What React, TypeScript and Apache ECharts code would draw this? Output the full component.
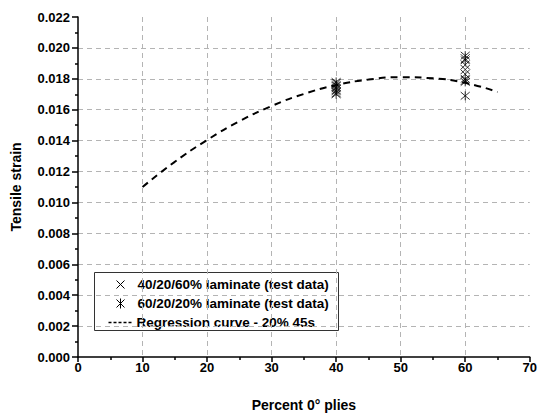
import React, { useEffect, useRef } from "react";
import * as echarts from "echarts";

const xTicks = [0, 10, 20, 30, 40, 50, 60, 70];
const yTicks = [0, 0.002, 0.004, 0.006, 0.008, 0.01, 0.012, 0.014, 0.016, 0.018, 0.02, 0.022];

const lam402060X = [40, 40, 40, 40, 60, 60, 60, 60, 60];
const lam402060Y = [0.0171, 0.0173, 0.0175, 0.0177, 0.0193, 0.0189, 0.0186, 0.0183, 0.0179];

const lam602020X = [40, 40, 40, 40, 40, 60, 60, 60, 60, 60];
const lam602020Y = [0.017, 0.0172, 0.0174, 0.0176, 0.0178, 0.0195, 0.0192, 0.018, 0.0178, 0.0169];

const regX = [10, 15, 20, 25, 30, 35, 40, 45, 50, 55, 60, 65];
const regY = [0.011, 0.01263, 0.01404, 0.01525, 0.01624, 0.01702, 0.01759, 0.01795, 0.0181, 0.01803, 0.01774, 0.01715];

const legendLabels = [
  "40/20/60% laminate (test data)",
  "60/20/20% laminate (test data)",
  "Regression curve - 20% 45s",
];

const X_PATH = "path://M0,0L10,10M10,0L0,10";
const AST_PATH = "path://M0,0L10,10M10,0L0,10M5,-1L5,11";

export default function App() {
  const ref = useRef<HTMLDivElement>(null);
  useEffect(() => {
    if (!ref.current) return;
    const chart = echarts.init(ref.current, undefined, { renderer: "svg" });
    const font = "Arial, 'Liberation Sans', sans-serif";
    const zip = (xs: number[], ys: number[]) => xs.map((x, i) => [x, ys[i]]);
    chart.setOption({
      animation: false,
      backgroundColor: "#fff",
      textStyle: { fontFamily: font },
      grid: { left: 78, right: 9, top: 17, bottom: 59 },
      xAxis: {
        type: "value",
        min: xTicks[0],
        max: xTicks[xTicks.length - 1],
        interval: 10,
        name: "Percent 0\u00b0 plies",
        nameLocation: "middle",
        nameGap: 41,
        nameTextStyle: { fontSize: 14, fontWeight: "bold", color: "#000", fontFamily: font },
        axisLine: { onZero: false, lineStyle: { color: "#000", width: 1.5 } },
        axisTick: { show: true, inside: false, length: 5, lineStyle: { color: "#000", width: 1.5 } },
        minorTick: { show: true, splitNumber: 2, length: 3, lineStyle: { color: "#000", width: 1.5 } },
        axisLabel: { fontSize: 13, fontWeight: "bold", color: "#000", margin: 4, fontFamily: font },
        splitLine: {
          show: true,
          showMinLine: false,
          showMaxLine: false,
          lineStyle: { color: "#b4b4b4", type: [5, 4], width: 1 },
        },
      },
      yAxis: {
        type: "value",
        min: yTicks[0],
        max: yTicks[yTicks.length - 1],
        interval: 0.002,
        name: "Tensile strain",
        nameLocation: "middle",
        nameGap: 55,
        nameTextStyle: { fontSize: 14, fontWeight: "bold", color: "#000", fontFamily: font },
        axisLine: { show: true, onZero: false, lineStyle: { color: "#000", width: 1.5 } },
        axisTick: { show: true, inside: false, length: 6, lineStyle: { color: "#000", width: 1.5 } },
        minorTick: { show: true, splitNumber: 2, length: 3, lineStyle: { color: "#000", width: 1.5 } },
        axisLabel: {
          fontSize: 13,
          fontWeight: "bold",
          color: "#000",
          margin: 8,
          fontFamily: font,
          formatter: (v: number) => v.toFixed(3),
        },
        splitLine: {
          show: true,
          showMinLine: false,
          showMaxLine: false,
          lineStyle: { color: "#b4b4b4", type: [5, 4], width: 1 },
        },
      },
      series: [
        {
          type: "line",
          name: legendLabels[2],
          data: zip(regX, regY),
          smooth: true,
          showSymbol: false,
          lineStyle: { color: "#000", width: 2, type: [7, 5] },
          z: 2,
        },
        {
          type: "scatter",
          name: legendLabels[0],
          data: zip(lam402060X, lam402060Y),
          symbol: X_PATH,
          symbolSize: 9,
          itemStyle: { color: "transparent", borderColor: "#000", borderWidth: 1 },
          z: 3,
        },
        {
          type: "scatter",
          name: legendLabels[1],
          data: zip(lam602020X, lam602020Y),
          symbol: AST_PATH,
          symbolSize: 9,
          itemStyle: { color: "transparent", borderColor: "#000", borderWidth: 1 },
          z: 3,
        },
      ],
      graphic: [
        {
          type: "group",
          left: 94,
          top: 272,
          z: 10,
          children: [
            {
              type: "rect",
              shape: { x: 0, y: 0, width: 244, height: 58 },
              style: { fill: "#fff", stroke: "#333", lineWidth: 1 },
            },
            {
              type: "line",
              shape: { x1: 22, y1: 8, x2: 30, y2: 16 },
              style: { stroke: "#000", lineWidth: 1 },
            },
            {
              type: "line",
              shape: { x1: 30, y1: 8, x2: 22, y2: 16 },
              style: { stroke: "#000", lineWidth: 1 },
            },
            {
              type: "line",
              shape: { x1: 22, y1: 27, x2: 30, y2: 35 },
              style: { stroke: "#000", lineWidth: 1 },
            },
            {
              type: "line",
              shape: { x1: 30, y1: 27, x2: 22, y2: 35 },
              style: { stroke: "#000", lineWidth: 1 },
            },
            {
              type: "line",
              shape: { x1: 26, y1: 26, x2: 26, y2: 36 },
              style: { stroke: "#000", lineWidth: 1 },
            },
            {
              type: "line",
              shape: { x1: 14, y1: 50, x2: 39, y2: 50 },
              style: { stroke: "#000", lineWidth: 1.5, lineDash: [3, 2] },
            },
            {
              type: "text",
              x: 43,
              y: 12,
              style: { text: legendLabels[0], font: "bold 13.5px " + font, fill: "#000", verticalAlign: "middle" },
            },
            {
              type: "text",
              x: 43,
              y: 31,
              style: { text: legendLabels[1], font: "bold 13.5px " + font, fill: "#000", verticalAlign: "middle" },
            },
            {
              type: "text",
              x: 42,
              y: 50,
              style: { text: legendLabels[2], font: "bold 13.5px " + font, fill: "#000", verticalAlign: "middle" },
            },
          ],
        },
      ],
    });
    return () => chart.dispose();
  }, []);
  return <div ref={ref} style={{ position: "fixed", left: 0, top: 0, width: 540, height: 417 }} />;
}
